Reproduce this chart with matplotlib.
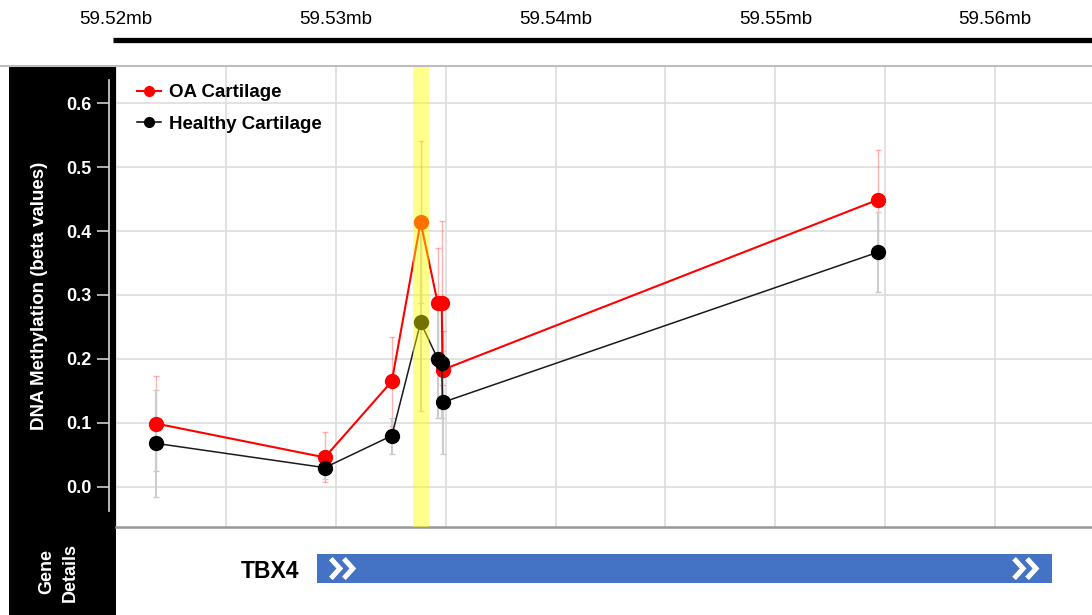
import numpy as np
import matplotlib
matplotlib.use("Agg")
import matplotlib.pyplot as plt
from matplotlib.lines import Line2D
from matplotlib.ticker import MultipleLocator

plt.rcParams['font.family'] = ['Liberation Sans', 'DejaVu Sans']

# CpG positions (mb) and methylation beta values
positions = [59.52182, 59.52950, 59.53255, 59.53386, 59.53464, 59.53482, 59.53486, 59.55468]
oa_beta = [0.099, 0.046, 0.165, 0.414, 0.287, 0.287, 0.183, 0.449]
oa_sd = [0.075, 0.039, 0.070, 0.126, 0.087, 0.128, 0.060, 0.078]
healthy_beta = [0.068, 0.030, 0.080, 0.257, 0.200, 0.193, 0.132, 0.367]
healthy_sd = [0.084, 0.018, 0.028, 0.138, 0.093, 0.085, 0.080, 0.062]

highlight = (59.5335, 59.53423)
gene_name = 'TBX4'
gene_start, gene_end = 59.52914, 59.56259
scale_ticks = [59.52, 59.53, 59.54, 59.55, 59.56]
y_ticks = [0.0, 0.1, 0.2, 0.3, 0.4, 0.5, 0.6]

W, H = 1092, 615
XMIN = 59.52
XMAX = 59.52 + 977 / 22000


def px(x0, y0, x1, y1):
    return [x0 / W, 1 - y1 / H, (x1 - x0) / W, (y1 - y0) / H]


fig = plt.figure(figsize=(W / 100, H / 100), dpi=100)

# black side panel
side = fig.add_axes(px(9, 66, 116, 615))
side.set_facecolor('black')
side.set_xticks([])
side.set_yticks([])
for s in side.spines.values():
    s.set_visible(False)

# top genomic scale
top = fig.add_axes(px(116, 0, 1092, 60))
top.set_xlim(XMIN, XMAX)
top.set_ylim(60, 0)
top.axis('off')
top.plot([XMIN - 3 / 22000, XMAX], [40, 40], color='black', lw=3.8, solid_capstyle='butt', clip_on=False)
for t in scale_ticks:
    top.text(t, 19, f'{t:.2f}mb', ha='center', va='center', fontsize=13.5, clip_on=False)

fig.add_artist(Line2D([0, 1], [1 - 65.5 / H, 1 - 65.5 / H], color='#bdbdbd', lw=1.5))

# main methylation panel
ax = fig.add_axes(px(116, 66, 1092, 527))
ax.spines['top'].set_visible(False)
ax.spines['right'].set_visible(False)
ax.spines['bottom'].set_color('#999999')
ax.spines['bottom'].set_linewidth(1.8)
ax.spines['left'].set_color('#d9d9d9')
ax.spines['left'].set_linewidth(1.2)
ax.spines['left'].set_position(('outward', 5))

ax.set_xlim(XMIN, XMAX)
ax.set_ylim(-0.0628, 0.658)
ax.spines['left'].set_bounds(-0.038, 0.636)
ax.xaxis.set_major_locator(MultipleLocator(0.005))
ax.set_yticks(y_ticks)
ax.set_yticklabels([f'{v:.1f}' for v in y_ticks])
ax.grid(True, color='#dddddd', lw=1.2)
ax.set_axisbelow(True)
ax.tick_params(axis='x', length=0, labelbottom=False)
ax.tick_params(axis='y', colors='#cfcfcf', length=8.6, width=1.2, pad=4,
               labelcolor='white', labelsize=13)

ax.errorbar(positions, oa_beta, yerr=oa_sd, fmt='none', ecolor=(1, 0, 0, 0.3),
            elinewidth=1, capsize=2.5, capthick=1, zorder=2)
ax.errorbar(positions, healthy_beta, yerr=healthy_sd, fmt='none', ecolor='#cccccc',
            elinewidth=1.5, capsize=2.5, capthick=1, zorder=2)
ax.plot(positions, oa_beta, color='red', lw=1.5, marker='o', ms=10, zorder=3)
ax.plot(positions, healthy_beta, color='#1a1a1a', lw=1.1, marker='o', ms=10,
        markerfacecolor='black', markeredgecolor='black', zorder=4)
ax.axvspan(*highlight, color='yellow', alpha=0.45, lw=0, zorder=5)

handles = [Line2D([], [], color='red', lw=1.5, marker='o', ms=7),
           Line2D([], [], color='black', lw=1.1, marker='o', ms=7)]
ax.legend(handles, ['OA Cartilage', 'Healthy Cartilage'], loc='upper left',
          bbox_to_anchor=(0.004, 0.997), frameon=False, handlelength=1.3,
          handletextpad=0.4, labelspacing=0.75, prop={'weight': 'bold', 'size': 13.5})

for lab in ax.get_yticklabels():
    lab.set_fontweight('bold')

fig.text(40 / W, 1 - 296 / H, 'DNA Methylation (beta values)', rotation=90,
         ha='center', va='center', color='white', fontsize=13.5, fontweight='bold')

# gene track
gene = fig.add_axes(px(116, 527, 1092, 615))
gene.set_xlim(XMIN, XMAX)
gene.set_ylim(0, 1)
gene.axis('off')
gene.barh(0.528, gene_end - gene_start, left=gene_start, height=0.33, color='#4472C4')
gene.text(gene_start - 18 / 22000, 0.5, gene_name, ha='right', va='center',
          fontsize=16.5, fontweight='bold')

mb = 1 / 22000


def chevrons(x0):
    for k in range(2):
        xs = x0 + k * 13 * mb
        gene.plot([xs, xs + 9 * mb, xs], [0.64, 0.528, 0.416], color='white',
                  lw=3.6, solid_joinstyle='miter', solid_capstyle='butt')


chevrons(gene_start + 14 * mb)
chevrons(gene_end - 38 * mb)

fig.text(59 / W, 1 - 572 / H, 'Gene\nDetails', rotation=90, ha='center', va='center',
         color='white', fontsize=13, fontweight='bold', linespacing=1.5)

fig.savefig('out.png', dpi=100)
